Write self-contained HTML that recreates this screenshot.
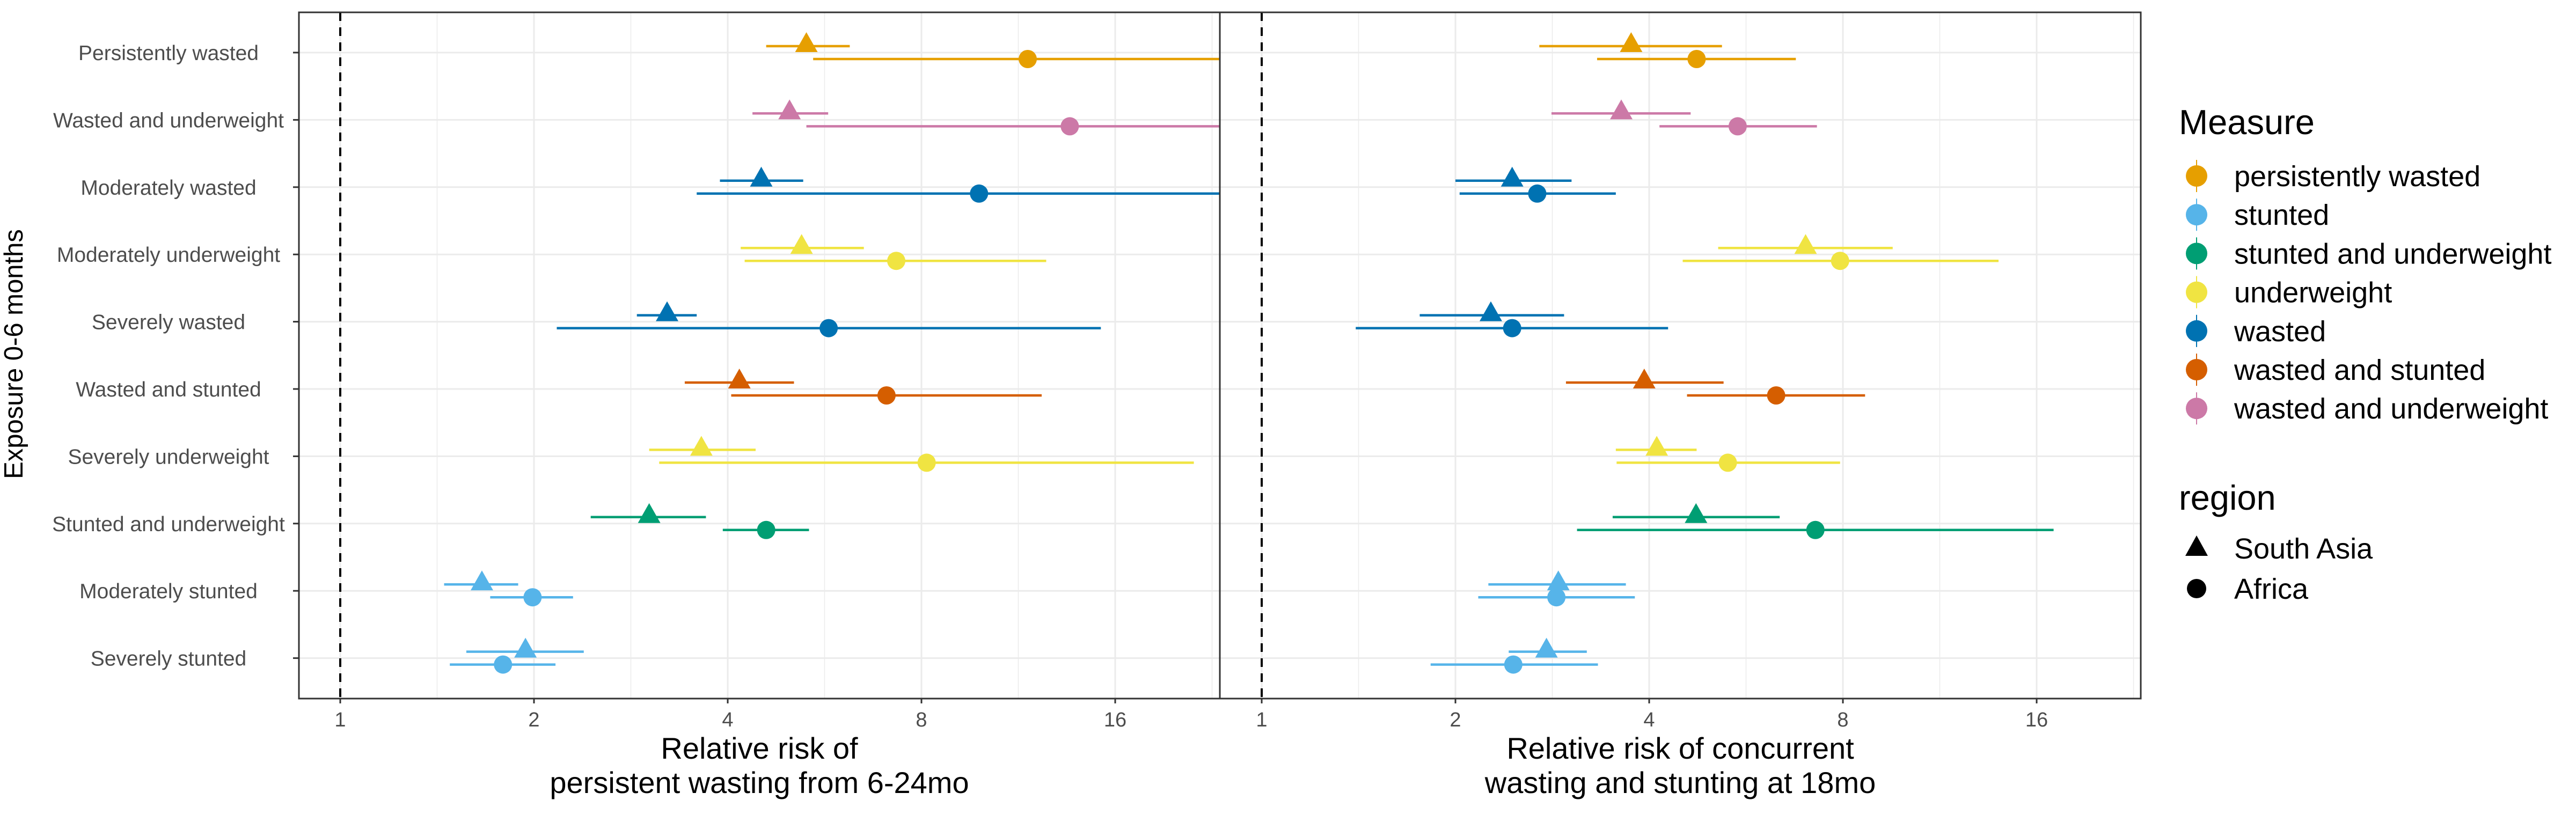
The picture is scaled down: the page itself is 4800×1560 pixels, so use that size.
<!DOCTYPE html>
<html><head><meta charset="utf-8"><style>
html,body{margin:0;padding:0;background:#fff}
svg{display:block;font-family:"Liberation Sans",Arial,sans-serif}
</style></head><body>
<svg id="chart" xmlns="http://www.w3.org/2000/svg" width="4800" height="1560" viewBox="0 0 4800 1560">
<defs>
<clipPath id="clipL"><rect x="557" y="23" width="1716" height="1279"/></clipPath>
<clipPath id="clipR"><rect x="2273" y="23" width="1716" height="1279"/></clipPath>
</defs>
<g id="gL"></g><g id="gR"></g>
<text transform="translate(42,660) rotate(-90)" text-anchor="middle" font-size="49" fill="#000">Exposure 0-6 months</text>
<text x="1415" text-anchor="middle" font-size="56" fill="#000"><tspan x="1415" y="1414">Relative risk of</tspan><tspan x="1415" y="1478">persistent wasting from 6-24mo</tspan></text>
<text x="3131" text-anchor="middle" font-size="56" fill="#000"><tspan x="3131" y="1414">Relative risk of concurrent</tspan><tspan x="3131" y="1478">wasting and stunting at 18mo</tspan></text>
<g id="legend"></g>
</svg>
<script>
const categories=["Persistently wasted","Wasted and underweight","Moderately wasted","Moderately underweight","Severely wasted","Wasted and stunted","Severely underweight","Stunted and underweight","Moderately stunted","Severely stunted"];
const rowMeasure=["persistently wasted","wasted and underweight","wasted","underweight","wasted","wasted and stunted","underweight","stunted and underweight","stunted","stunted"];
const measures=["persistently wasted","stunted","stunted and underweight","underweight","wasted","wasted and stunted","wasted and underweight"];
const measureColors=["#E69F00","#56B4E9","#009E73","#F0E442","#0072B2","#D55E00","#CC79A7"];
const tickValues=[1,2,4,8,16];
// Left panel: persistent wasting
const leftAsiaEst=[5.3,4.99,4.51,5.21,3.22,4.17,3.64,3.02,1.66,1.94];
const leftAsiaLo=[4.59,4.37,3.89,4.19,2.89,3.43,3.02,2.45,1.45,1.57];
const leftAsiaHi=[6.19,5.73,5.24,6.51,3.58,5.07,4.42,3.70,1.89,2.39];
const leftAfricaEst=[11.7,13.6,9.83,7.31,5.74,7.06,8.15,4.59,1.99,1.79];
const leftAfricaLo=[5.43,5.3,3.58,4.25,2.17,4.05,3.13,3.93,1.71,1.48];
const leftAfricaHi=[30,30,30,12.5,15.2,12.3,21.2,5.35,2.30,2.16];
// Right panel: concurrent wasting & stunting
const rightAsiaEst=[3.75,3.62,2.45,7.00,2.27,3.93,4.11,4.73,2.89,2.77];
const rightAsiaLo=[2.70,2.82,2.00,5.12,1.76,2.97,3.55,3.51,2.25,2.42];
const rightAsiaHi=[5.19,4.64,3.03,9.56,2.95,5.22,4.74,6.38,3.68,3.20];
const rightAfricaEst=[4.74,5.49,2.68,7.92,2.45,6.30,5.30,7.25,2.87,2.46];
const rightAfricaLo=[3.32,4.15,2.03,4.51,1.40,4.58,3.56,3.09,2.17,1.83];
const rightAfricaHi=[6.76,7.29,3.55,13.96,4.28,8.66,7.92,17.0,3.80,3.33];

const NS="http://www.w3.org/2000/svg";
function mk(tag,attrs,parent){const e=document.createElementNS(NS,tag);for(const k in attrs)e.setAttribute(k,attrs[k]);if(parent)parent.appendChild(e);return e;}
const pTop=23,pBottom=1302,rowY0=98,rowStep=125.4;
function yRow(i){return rowY0+i*rowStep;}
function colorOf(i){return measureColors[measures.indexOf(rowMeasure[i])];}

function panel(g,x0,x1,one,clip,asia,africa,side){
  const xs=v=>one+Math.log2(v)*361;
  const bg=mk('rect',{x:x0,y:pTop,width:x1-x0,height:pBottom-pTop,fill:'#fff'},g);
  
  
  for(let k=-1;k<=5;k++){const x=one+(k+0.5)*361;if(x>x0&&x<x1){const l=mk('line',{x1:x,x2:x,y1:pTop,y2:pBottom,stroke:'#EBEBEB','stroke-width':1.5},g);
    
    }}
  tickValues.forEach(v=>{const x=xs(v);const l=mk('line',{x1:x,x2:x,y1:pTop,y2:pBottom,stroke:'#EBEBEB','stroke-width':3},g);
    
    });
  categories.forEach((c,i)=>{const l=mk('line',{x1:x0,x2:x1,y1:yRow(i),y2:yRow(i),stroke:'#EBEBEB','stroke-width':3},g);
    
    });
  const ref=mk('line',{x1:xs(1),x2:xs(1),y1:pTop,y2:pBottom,stroke:'#000','stroke-width':4,'stroke-dasharray':'16,12'},g);
  
  
  const data=mk('g',{'clip-path':'url(#'+clip+')'},g);
  categories.forEach((c,i)=>{
    const col=colorOf(i);
    let y=yRow(i)-12;
    let e=mk('line',{x1:xs(asia[1][i]),x2:xs(asia[2][i]),y1:y,y2:y,stroke:col,'stroke-width':4.5},data);
    
    
    const tx=xs(asia[0][i]);
    let t=mk('polygon',{points:`${tx},${y-26} ${tx-21},${y+11} ${tx+21},${y+11}`,fill:col},data);
    
    
    y=yRow(i)+12;
    e=mk('line',{x1:xs(africa[1][i]),x2:xs(africa[2][i]),y1:y,y2:y,stroke:col,'stroke-width':4.5},data);
    
    
    const p=mk('circle',{cx:xs(africa[0][i]),cy:y,r:17,fill:col},data);
    
    
  });
  const br=mk('rect',{x:x0,y:pTop,width:x1-x0,height:pBottom-pTop,fill:'none',stroke:'#333','stroke-width':3},g);
  
  
  tickValues.forEach(v=>{const x=xs(v);
    const tk=mk('line',{x1:x,x2:x,y1:pBottom,y2:pBottom+9,stroke:'#333','stroke-width':3},g);
    
    
    const t=mk('text',{x:x,y:pBottom+52,'text-anchor':'middle','font-size':38,fill:'#4D4D4D'},g);t.textContent=v;
    
    
  });
}
panel(document.getElementById('gL'),557,2273,634,'clipL',[leftAsiaEst,leftAsiaLo,leftAsiaHi],[leftAfricaEst,leftAfricaLo,leftAfricaHi],'left');
panel(document.getElementById('gR'),2273,3989,2351,'clipR',[rightAsiaEst,rightAsiaLo,rightAsiaHi],[rightAfricaEst,rightAfricaLo,rightAfricaHi],'right');
const gl=document.getElementById('gL');
categories.forEach((c,i)=>{
  const tk=mk('line',{x1:546,x2:557,y1:yRow(i),y2:yRow(i),stroke:'#333','stroke-width':3},gl);
  
  
  const t=mk('text',{x:314,y:yRow(i)+14,'text-anchor':'middle','font-size':39,fill:'#4D4D4D'},gl);t.textContent=c;
  
  
});
const lg=document.getElementById('legend');
let tt=mk('text',{x:4060,y:250,'font-size':65,fill:'#000'},lg);tt.textContent='Measure';


measures.forEach((m,i)=>{const y=328+i*72.2;
  const l=mk('line',{x1:4093,x2:4093,y1:y-30,y2:y+30,stroke:measureColors[i],'stroke-width':2},lg);
  
  
  const c=mk('circle',{cx:4093,cy:y,r:20,fill:measureColors[i]},lg);
  
  
  const t=mk('text',{x:4163,y:y+19,'font-size':54,fill:'#000'},lg);t.textContent=m;
  
  
});
tt=mk('text',{x:4060,y:950,'font-size':65,fill:'#000'},lg);tt.textContent='region';


let p=mk('polygon',{points:'4093,998 4072,1036 4114,1036',fill:'#000'},lg);


let t=mk('text',{x:4163,y:1041,'font-size':54,fill:'#000'},lg);t.textContent='South Asia';


p=mk('circle',{cx:4093,cy:1097,r:18,fill:'#000'},lg);


t=mk('text',{x:4163,y:1116,'font-size':54,fill:'#000'},lg);t.textContent='Africa';


</script>
</body></html>
